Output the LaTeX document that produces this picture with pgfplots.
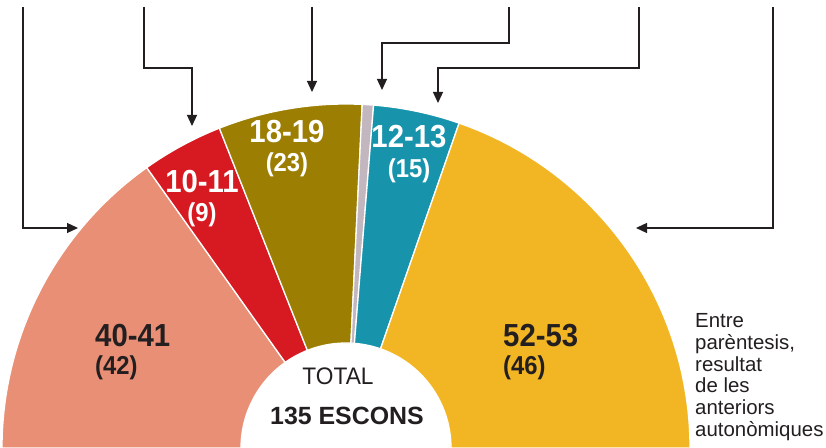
\documentclass[border=0pt]{standalone}
\usepackage{pgfplots}
\pgfplotsset{compat=1.18}
\usepackage{pgfplotstable}
\usetikzlibrary{arrows.meta}
\usepackage{fontspec}
\setmainfont{Liberation Sans}
\newfontfamily\cond[FakeStretch=0.92]{Liberation Sans}
\newfontfamily\condreg[FakeStretch=0.95]{Liberation Sans}

\definecolor{cSalmon}{HTML}{E98F75}
\definecolor{cRed}{HTML}{D71A21}
\definecolor{cOlive}{HTML}{9C7E02}
\definecolor{cGray}{HTML}{C2B6BF}
\definecolor{cTeal}{HTML}{1793AC}
\definecolor{cYellow}{HTML}{F2B625}
\definecolor{ink}{HTML}{231F20}

% wedges of the hemicycle, in degrees (180 = left end)
\pgfplotstableread{
a0    a1    fc
125.4 180   cSalmon
111.6 125.4 cRed
87.3  111.6 cOlive
85.4  87.3  cGray
70.8  85.4  cTeal
0     70.8  cYellow
}\seats

\begin{document}
\begin{tikzpicture}
\begin{axis}[
    x=1bp, y=1bp,
    xmin=0, xmax=826, ymin=0, ymax=448,
    hide axis,
    pointer/.style={draw=ink, line width=1.2bp, mark=none,
        -{Triangle[width=10bp,length=11bp]}},
]
\path (axis cs:0,0) rectangle (axis cs:826,448);

\pgfplotstablegetrowsof{\seats}
\pgfmathtruncatemacro{\N}{\pgfplotsretval-1}
\foreach \i in {0,...,\N}{
    \pgfplotstablegetelem{\i}{a0}\of\seats \let\aa\pgfplotsretval
    \pgfplotstablegetelem{\i}{a1}\of\seats \let\ab\pgfplotsretval
    \pgfplotstablegetelem{\i}{fc}\of\seats \let\fc\pgfplotsretval
    \edef\wedge{\noexpand\fill[fill=\fc, draw=white, line width=1.3bp]
        (axis cs:346,0) ++(\aa:344bp) arc[start angle=\aa, end angle=\ab, radius=344bp]
        -- ([shift={(\ab:105bp)}]axis cs:346,0) arc[start angle=\ab, end angle=\aa, radius=105bp]
        -- cycle;}
    \wedge
}

% pointer lines
\addplot[pointer] coordinates {(23,441) (23,220) (78,220)};
\addplot[pointer] coordinates {(144,441) (144,380) (192,380) (192,322)};
\addplot[pointer] coordinates {(312,441) (312,356)};
\addplot[pointer] coordinates {(509,441) (509,405) (382,405) (382,358)};
\addplot[pointer] coordinates {(639,441) (639,380) (438,380) (438,345)};
\addplot[pointer] coordinates {(773,441) (773,220) (636,220)};

% seat labels
\node[anchor=base west, inner sep=0, text=ink] at (axis cs:95,101) {\cond\bfseries\fontsize{32}{32}\selectfont 40-41};
\node[anchor=base west, inner sep=0, text=ink] at (axis cs:95,73) {\cond\bfseries\fontsize{26}{26}\selectfont (42)};
\node[anchor=base west, inner sep=0, text=ink] at (axis cs:503,101) {\cond\bfseries\fontsize{32}{32}\selectfont 52-53};
\node[anchor=base west, inner sep=0, text=ink] at (axis cs:503,73) {\cond\bfseries\fontsize{26}{26}\selectfont (46)};
\node[anchor=base, inner sep=0, text=white] at (axis cs:202,255) {\cond\bfseries\fontsize{32}{32}\selectfont 10-11};
\node[anchor=base, inner sep=0, text=white] at (axis cs:202,226) {\cond\bfseries\fontsize{26}{26}\selectfont (9)};
\node[anchor=base, inner sep=0, text=white] at (axis cs:287,305) {\cond\bfseries\fontsize{32}{32}\selectfont 18-19};
\node[anchor=base, inner sep=0, text=white] at (axis cs:287,276) {\cond\bfseries\fontsize{26}{26}\selectfont (23)};
\node[anchor=base, inner sep=0, text=white] at (axis cs:409,300) {\cond\bfseries\fontsize{32}{32}\selectfont 12-13};
\node[anchor=base, inner sep=0, text=white] at (axis cs:409,270) {\cond\bfseries\fontsize{26}{26}\selectfont (15)};

% centre
\node[anchor=base, inner sep=0, text=ink] at (axis cs:338,63) {\condreg\fontsize{24}{24}\selectfont TOTAL};
\node[anchor=base, inner sep=0, text=ink] at (axis cs:347,23) {\bfseries\fontsize{25}{25}\selectfont 135 ESCONS};

% note
\node[anchor=north west, inner sep=0, text=ink, align=left,
      font=\fontsize{20.5}{22}\selectfont] at (axis cs:695,135)
    {Entre\\par\`entesis,\\resultat\\de les\\anteriors\\auton\`omiques};
\end{axis}
\end{tikzpicture}
\end{document}
